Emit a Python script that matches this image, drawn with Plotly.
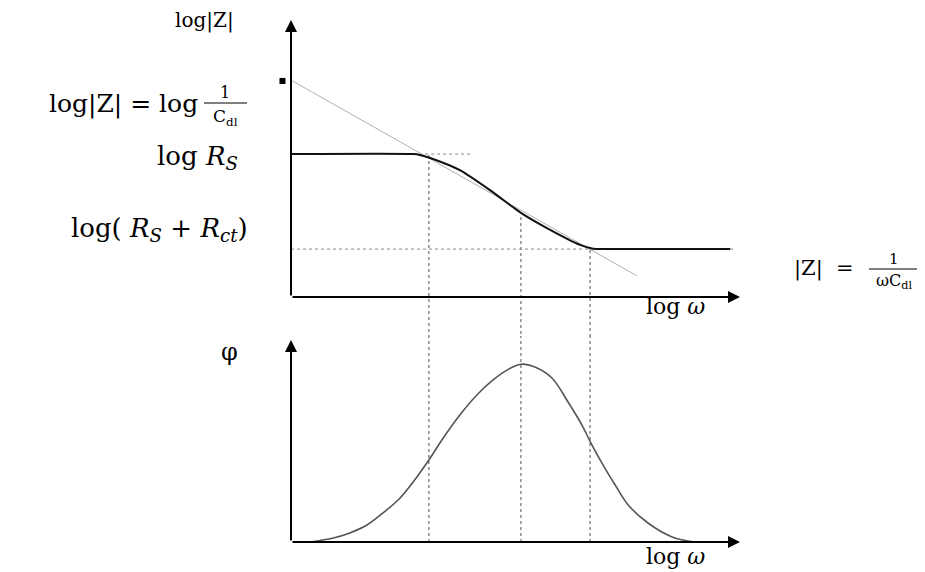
import plotly.graph_objects as go

# Schematic Bode plot of a Randles cell (arbitrary log units)

# |Z| curve
mag_w = [0.0, 2.72, 2.87, 3.10, 3.76, 4.43, 4.94, 5.12, 5.70, 6.44, 6.73, 6.99, 9.78]
mag_z = [5.16, 5.16, 5.13, 5.02, 4.58, 3.86, 3.25, 3.04, 2.49, 1.88, 1.74, 1.73, 1.73]
mag_tail_w = [9.78, 9.89]
mag_tail_z = [1.73, 1.73]

# capacitive asymptote  |Z| = 1/(w*Cdl)
asym_w = [0.0, 7.71]
asym_z = [7.83, 0.76]
asym_dot_w = [-0.19]
asym_dot_z = [7.80]

# guide levels: log Rs and log(Rs + Rct)
rs_w = [2.72, 4.03]
rs_z = [5.16, 5.16]
rsct_w = [0.0, 6.88]
rsct_z = [1.73, 1.73]

# characteristic frequencies
corner_w = [3.07, 5.12, 6.66]
corner_z = [5.13, 2.89, 1.70]

# phase angle
phase_w = [0.42, 0.94, 1.31, 1.69, 2.05, 2.43, 2.72, 3.07, 3.39, 3.76, 4.14, 4.50,
           4.81, 5.12, 5.43, 5.81, 6.17, 6.48, 6.68, 6.99, 7.22, 7.51, 7.95, 8.49, 9.00]
phase_phi = [0.0, 0.20, 0.45, 0.84, 1.44, 2.18, 2.97, 4.06, 5.15, 6.29, 7.28, 8.02,
             8.51, 8.80, 8.66, 8.12, 6.93, 5.79, 4.90, 3.66, 2.82, 1.83, 0.94, 0.25, 0.0]

AXIS_END = 10.0
TOP_YMIN = -1.552
BOT_YMIN, BOT_YMAX = -1.139, 10.198

# page body keeps its default 8px margin, so the figure is drawn 8px in
OFF = 8
W, H = 925 - OFF, 572 - OFF


def px(x):
    return (x - OFF) / W


def py(y):
    return 1 - (y - OFF) / H


fig = go.Figure()

# vertical dotted guides, split across both panels
vx_top, vy_top, vx_bot, vy_bot = [], [], [], []
for w, z in zip(corner_w, corner_z):
    vx_top += [w, w, None]
    vy_top += [z, TOP_YMIN, None]
    vx_bot += [w, w, None]
    vy_bot += [0, BOT_YMAX, None]

fig.add_trace(go.Scatter(x=vx_top, y=vy_top, mode="lines",
                         line=dict(color="#8a8a8a", width=1.5, dash="dot"),
                         xaxis="x", yaxis="y", hoverinfo="skip"))
fig.add_trace(go.Scatter(x=vx_bot, y=vy_bot, mode="lines",
                         line=dict(color="#8a8a8a", width=1.5, dash="dot"),
                         xaxis="x", yaxis="y2", hoverinfo="skip"))

# horizontal dotted guides
for xs, ys in [(rs_w, rs_z), (rsct_w, rsct_z), (mag_tail_w, mag_tail_z)]:
    fig.add_trace(go.Scatter(x=xs, y=ys, mode="lines",
                             line=dict(color="#8a8a8a", width=1, dash="dot"),
                             xaxis="x", yaxis="y", hoverinfo="skip"))

# asymptote
fig.add_trace(go.Scatter(x=asym_w, y=asym_z, mode="lines",
                         line=dict(color="#b0b0b0", width=1),
                         xaxis="x", yaxis="y", hoverinfo="skip"))
fig.add_trace(go.Scatter(x=asym_dot_w, y=asym_dot_z, mode="markers",
                         marker=dict(color="black", size=6, symbol="square"),
                         cliponaxis=False, xaxis="x", yaxis="y", hoverinfo="skip"))

# |Z|
fig.add_trace(go.Scatter(x=mag_w, y=mag_z, mode="lines",
                         line=dict(color="#111111", width=2, shape="spline", smoothing=0.6),
                         xaxis="x", yaxis="y", hoverinfo="skip"))

# phase
fig.add_trace(go.Scatter(x=phase_w, y=phase_phi, mode="lines",
                         line=dict(color="#555555", width=1.6, shape="spline", smoothing=1.0),
                         xaxis="x", yaxis="y2", hoverinfo="skip"))

# arrowed axes
arrows = []
for yref in ["y", "y2"]:
    arrows.append(dict(x=0, y=AXIS_END, ax=0, ay=0, xref="x", yref=yref,
                       axref="x", ayref=yref))
    arrows.append(dict(x=AXIS_END, y=0, ax=0, ay=0, xref="x", yref=yref,
                       axref="x", ayref=yref))
for a in arrows:
    a.update(text="", showarrow=True, arrowhead=2, arrowsize=1.2,
             arrowwidth=2, arrowcolor="black")

serif = "DejaVu Serif"
labels = [
    ("log|Z|", 204, 20, "center", 20),
    ("log|Z| = log", 200, 104, "right", 25),
    ("1", 225, 93, "center", 16),
    ("C<sub>dl</sub>", 225, 117, "center", 17),
    ("log <i>R<sub>S</sub></i>", 240, 157, "right", 26),
    ("log( <i>R<sub>S</sub></i> + <i>R<sub>ct</sub></i>)", 250, 229, "right", 26),
    ("|Z|\u00a0\u00a0=", 856, 268, "right", 21),
    ("1", 894, 259, "center", 15),
    ("ωC<sub>dl</sub>", 894, 281, "center", 16),
    ("log <i>ω</i>", 675, 306, "center", 22),
    ("log <i>ω</i>", 675, 556, "center", 22),
    ("φ", 229, 352, "center", 24),
]
texts = [dict(text=t, x=px(x), y=py(y), xref="paper", yref="paper",
              xanchor=anchor, yanchor="middle", showarrow=False,
              font=dict(family=serif, size=size, color="black"))
         for t, x, y, anchor, size in labels]

# fraction bars
bars = [dict(type="line", xref="paper", yref="paper",
             x0=px(x0), x1=px(x1), y0=py(y), y1=py(y),
             line=dict(color="black", width=1.2))
        for x0, x1, y in [(204, 247, 103), (869, 920, 269)]]

fig.update_layout(
    width=W, height=H,
    margin=dict(l=0, r=0, t=0, b=0),
    paper_bgcolor="white", plot_bgcolor="white",
    showlegend=False,
    xaxis=dict(domain=[px(270), px(760)], range=[-0.468, 10.445],
               visible=False, anchor="y"),
    yaxis=dict(domain=[py(340), py(OFF)], range=[TOP_YMIN, TOP_YMIN + (340 - OFF) / 27.7],
               visible=False, anchor="x"),
    yaxis2=dict(domain=[py(565), py(336)], range=[BOT_YMIN, BOT_YMAX],
                visible=False, anchor="x"),
    annotations=arrows + texts,
    shapes=bars,
)

fig.write_html("out.html")
